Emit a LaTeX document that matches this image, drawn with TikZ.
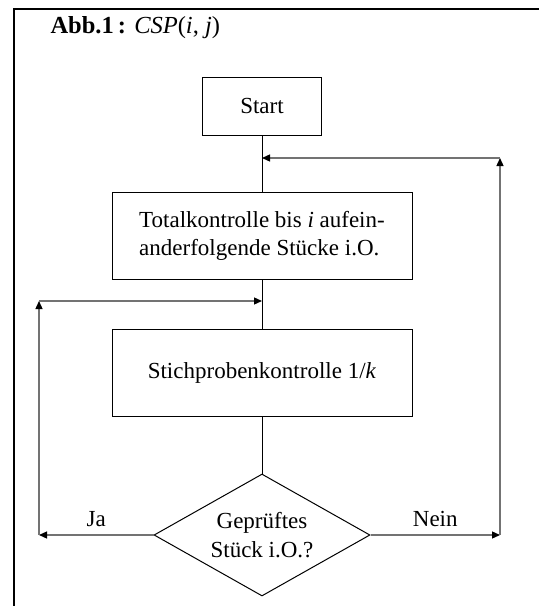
\documentclass[tikz,border=0pt]{standalone}
\usepackage{fontspec}
\setmainfont{Liberation Serif}
\usetikzlibrary{arrows.meta,shapes.geometric,positioning}
\tikzset{
    stepbox/.style={
           rectangle,
           draw=black, line width=1pt,
           minimum width=300pt,
           minimum height=87pt,
           inner sep=3pt,
           text centered,
           font=\fontsize{23}{28}\selectfont,
           },
    query/.style={
           diamond,
           draw=black, line width=1pt,
           shape aspect=1.77,
           minimum width=216pt,
           minimum height=122pt,
           inner sep=0pt,
           align=center,
           font=\fontsize{23}{29}\selectfont,
           },
    flow/.style={draw=black, line width=1pt},
    loop/.style={draw=black!55, line width=1.3pt,
           -{Triangle[length=8pt,width=7pt,black]}},
    tag/.style={font=\fontsize{23}{28}\selectfont},
}
\begin{document}
\begin{tikzpicture}[x=1pt, y=-1pt]

 % page size and frame (only top and left edge)
 \useasboundingbox (0,0) rectangle (539,606);
 \draw[line width=2.5pt] (14,606) -- (14,9) -- (539,9);

 % heading
 \node[anchor=west, font=\fontsize{24.5}{28}\selectfont] (title) at (47,28)
	{\textbf{Abb.1\,:} \textit{CSP}(\textit{i}, \textit{j})};

 % boxes of the chart
 \node[stepbox, minimum width=119pt, minimum height=58pt] (start) at (262,106)
	{Start};
 \node[stepbox, align=left] (total) at (262,235.5)
	{Totalkontrolle bis \textit{i} aufein-\\anderfolgende Stücke i.O.};
 \node[stepbox] (stich) at (262,372.5)
	{Stichprobenkontrolle 1/\textit{k}};
 \node[query] (check) at (262,535)
	{Geprüftes\\Stück i.O.?};

 % points where the loops join the main line
 \coordinate (back1) at (262,158);
 \coordinate (back2) at (262,301);
 \coordinate (nein) at (500,535);
 \coordinate (neintop) at (500,158);
 \coordinate (ja) at (39,535);
 \coordinate (jatop) at (39,301);

 % main line
 \path[flow]
	 (start.south) -- (total.north)
	 (total.south) -- (stich.north)
	 (stich.south) -- (check.north);

 % loop "Nein" back to the full check
 \draw[loop] (check.east) -- node[tag, above=4pt]{Nein} (nein);
 \draw[loop] (nein) -- (neintop);
 \draw[loop] (neintop) -- (back1);

 % loop "Ja" back to the sampling
 \draw[loop] (check.west) -- node[tag, above=4pt]{Ja} (ja);
 \draw[loop] (ja) -- (jatop);
 \draw[loop] (jatop) -- (back2);
\end{tikzpicture}
\end{document}
